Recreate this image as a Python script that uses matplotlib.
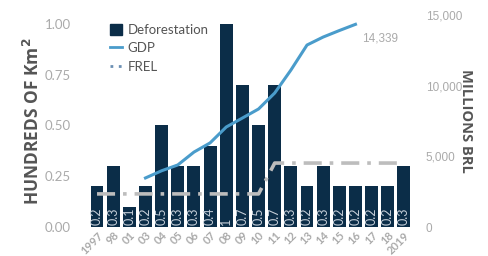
import matplotlib
matplotlib.use("Agg")
import matplotlib.pyplot as plt
from matplotlib.lines import Line2D
from matplotlib.patches import Patch
import numpy as np

years = ["1997", "98", "01", "03", "04", "05", "06", "07", "08", "09",
         "10", "11", "12", "13", "14", "15", "16", "17", "18", "2019"]
deforestation = [0.2, 0.3, 0.1, 0.2, 0.5, 0.3, 0.3, 0.4, 1.0, 0.7,
                 0.5, 0.7, 0.3, 0.2, 0.3, 0.2, 0.2, 0.2, 0.2, 0.3]
bar_labels = ["0.2", "0.3", "0.1", "0.2", "0.5", "0.3", "0.3", "0.4", "1", "0.7",
              "0.5", "0.7", "0.3", "0.2", "0.3", "0.2", "0.2", "0.2", "0.2", "0.3"]
gdp_years = ["03", "04", "05", "06", "07", "08", "09", "10", "11", "12", "13", "14", "15", "16"]
gdp = [3470, 3980, 4390, 5300, 5950, 7075, 7710, 8350, 9480, 11100, 12875, 13440, 13900, 14339]
frel = [0.163] * 11 + [0.315] * 9

plt.rcParams['font.family'] = ['Lato', 'DejaVu Sans']

fig = plt.figure(figsize=(4.88, 2.56), dpi=100)
ax = fig.add_axes([82 / 488, 1 - 227 / 256, 330 / 488, 212 / 256])
ax2 = ax.twinx()

x = np.arange(len(years))
navy = "#0b2d48"
blue = "#4a9ccb"
gray_tick = "#aaaaaa"

ax.bar(x, deforestation, width=0.8, color=navy, zorder=2)
for xi, lab in zip(x, bar_labels):
    ax.text(xi, 0.012, lab, rotation=90, ha='center', va='bottom',
            fontsize=9, color="#c6cfd9", zorder=3)

ax.plot(x, frel, color="#bdbdbd", lw=2.6, linestyle=(0, (5, 2.2, 1, 2.2)), zorder=4)

gx = [years.index(g) for g in gdp_years]
ax2.plot(gx, gdp, color=blue, lw=2.2, zorder=5)
ax2.text(gx[-1] + 0.4, gdp[-1] - 550, "14,339", ha='left', va='top',
         fontsize=8.5, color=gray_tick, family=['Liberation Sans'])

ax.set_xlim(-0.93, 19.5)
ax.set_ylim(0, 1.0443)
ax2.set_ylim(0, 15000)
ax.set_yticks([0, 0.25, 0.5, 0.75, 1.0])
ax.set_yticklabels(["0.00", "0.25", "0.50", "0.75", "1.00"])
ax2.set_yticks([0, 5000, 10000, 15000])
ax2.set_yticklabels(["0", "5,000", "10,000", "15,000"], family=['Liberation Sans'])

ax.set_xticks(x)
ax.set_xticklabels(years, rotation=45, ha='right', rotation_mode='anchor',
                   fontsize=8, color=gray_tick, fontweight='bold')

for a in (ax, ax2):
    for s in a.spines.values():
        s.set_visible(False)
ax.tick_params(axis='y', length=0, pad=8, labelsize=9.5, labelcolor=gray_tick)
ax.tick_params(axis='x', length=0, pad=2)
ax2.tick_params(axis='y', length=0, pad=10, labelsize=8.5, labelcolor=gray_tick)

ax.set_ylabel("HUNDREDS OF Km$^\\mathbf{2}$", fontsize=12.5, fontweight='bold',
              color="#555555", family=['Open Sans', 'DejaVu Sans'], labelpad=1)
ax2.set_ylabel("MILLIONS BRL", fontsize=10.5, fontweight='bold', color="#555555",
               family=['Open Sans', 'DejaVu Sans'], rotation=-90, labelpad=8)

handles = [Patch(facecolor=navy, edgecolor=navy),
           Line2D([0], [0], color=blue, lw=2),
           Line2D([0], [0], color="#6b8fb3", lw=2, linestyle=(0, (1, 2)))]
leg = ax.legend(handles, ["Deforestation", "GDP", "FREL"], loc='upper left',
                bbox_to_anchor=(0.065, 0.99), frameon=False, fontsize=9.5,
                handlelength=0.9, handleheight=0.9, handletextpad=0.45,
                labelspacing=0.5, borderpad=0, labelcolor="#555555")

fig.savefig("out.png", dpi=100)
